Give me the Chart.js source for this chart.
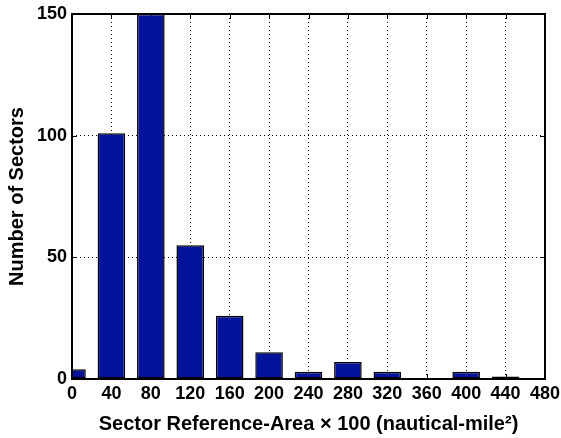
<!DOCTYPE html>
<html>
<head>
<meta charset="utf-8">
<title>Sector reference-area histogram</title>
<script src="https://cdn.jsdelivr.net/npm/chart.js@4.4.1/dist/chart.umd.min.js"></script>
<style>
  html, body { margin: 0; padding: 0; background: #fff; }
  #wrap { width: 561px; height: 438px; position: relative; }
</style>
</head>
<body>
<div id="wrap"><canvas id="c"></canvas></div>
<script>
// Histogram bins (bin centres, area x 100 nautical-mile^2) and sector counts
const binCenters = [0, 40, 80, 120, 160, 200, 240, 280, 320, 360, 400, 440];
const sectorCounts = [4, 101, 150, 55, 26, 11, 3, 7, 3, 0, 3, 1];
const xTicks = [0, 40, 80, 120, 160, 200, 240, 280, 320, 360, 400, 440, 480];
const yTicks = [0, 50, 100, 150];

const FAMILY = "'Liberation Sans', Arial, Helvetica, sans-serif";
const TICK_FONT = { family: FAMILY, weight: 'bold', size: 18 };
const TITLE_FONT = { family: FAMILY, weight: 'bold', size: 20 };

// Box around the plot area plus short inward tick marks on all four sides
const axesBox = {
  id: 'axesBox',
  beforeDatasetsDraw(chart) {
    const { ctx, chartArea: a, scales } = chart;
    const len = 5;
    ctx.save();
    ctx.strokeStyle = '#000';
    ctx.lineWidth = 1;
    ctx.beginPath();
    xTicks.forEach(v => {
      const px = Math.round(scales.x.getPixelForValue(v)) + 0.5;
      ctx.moveTo(px, a.bottom); ctx.lineTo(px, a.bottom - len);
      ctx.moveTo(px, a.top); ctx.lineTo(px, a.top + len);
    });
    yTicks.forEach(v => {
      const py = Math.round(scales.y.getPixelForValue(v)) + 0.5;
      ctx.moveTo(a.left, py); ctx.lineTo(a.left + len, py);
      ctx.moveTo(a.right, py); ctx.lineTo(a.right - len, py);
    });
    ctx.stroke();
    ctx.restore();
  },
  afterDraw(chart) {
    const { ctx, chartArea: a } = chart;
    ctx.save();
    ctx.strokeStyle = '#000';
    ctx.lineWidth = 2;
    ctx.strokeRect(a.left, a.top, a.right - a.left, a.bottom - a.top);
    ctx.restore();
  }
};

const edgeAware = (lo, hi) => (ctx) => {
  const v = ctx.tick ? ctx.tick.value : null;
  return (v === lo || v === hi) ? 'rgba(0,0,0,0)' : '#000';
};

new Chart(document.getElementById('c'), {
  type: 'bar',
  data: {
    datasets: [{
      data: binCenters.map((x, i) => ({ x, y: sectorCounts[i] })),
      backgroundColor: '#04149a',
      borderColor: '#000',
      borderWidth: 1.5,
      borderSkipped: false,
      categoryPercentage: 1,
      barPercentage: 0.7
    }]
  },
  options: {
    responsive: true,
    maintainAspectRatio: false,
    animation: false,
    layout: { padding: { left: 0, top: 14, right: 16, bottom: 0 } },
    plugins: { legend: { display: false }, tooltip: { enabled: false } },
    scales: {
      x: {
        type: 'linear',
        offset: false,
        min: 0, max: 480,
        afterBuildTicks(s) { s.ticks = xTicks.map(v => ({ value: v })); },
        afterFit(s) { s.height = 59; s.paddingRight = 0; s.paddingLeft = 0; },
        ticks: { color: '#000', font: TICK_FONT, padding: 4, maxRotation: 0, autoSkip: false },
        grid: { offset: false, color: edgeAware(0, 480), drawTicks: false, lineWidth: 1 },
        border: { display: false, dash: [1, 3] },
        title: {
          display: true,
          text: 'Sector Reference-Area \u00d7 100 (nautical-mile\u00b2)',
          color: '#000', font: TITLE_FONT, padding: { top: 0, bottom: 2 }
        }
      },
      y: {
        min: 0, max: 150,
        afterBuildTicks(s) { s.ticks = yTicks.map(v => ({ value: v })); },
        afterFit(s) { s.width = 72; s.paddingTop = 0; s.paddingBottom = 0; },
        ticks: { color: '#000', font: TICK_FONT, padding: 5 },
        grid: { color: edgeAware(0, 150), drawTicks: false, lineWidth: 1 },
        border: { display: false, dash: [1, 3] },
        title: {
          display: true,
          text: 'Number of Sectors',
          color: '#000', font: TITLE_FONT, padding: { top: 5, bottom: 0 }
        }
      }
    }
  },
  plugins: [axesBox]
});
</script>
</body>
</html>
